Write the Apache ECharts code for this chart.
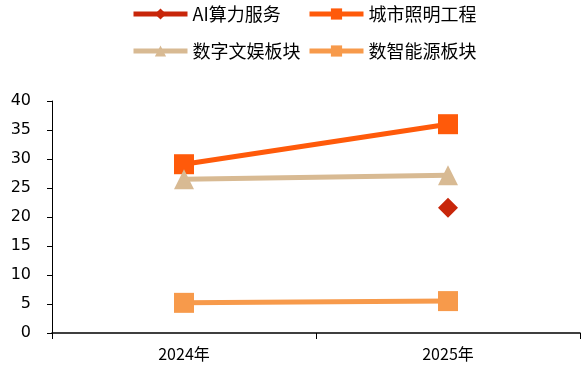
<!DOCTYPE html>
<html>
<head>
    <meta charset="UTF-8">
    <title>板块收入</title>
    <script src="https://cdn.jsdelivr.net/npm/echarts@6/dist/echarts.min.js"></script>
    <style>
        body { margin: 0; background: #fff; }
    </style>
</head>
<body>
<div id="main" style="width: 582px;height:374px;"></div>
<script type="text/javascript">
    // 数据
    var years = ['2024年', '2025年'];
    var aiService = [null, 21.6];
    var cityLight = [29.1, 36.0];
    var digitalEnt = [26.5, 27.2];
    var smartEnergy = [5.2, 5.5];
    var yTicks = [0, 5, 10, 15, 20, 25, 30, 35, 40];

    var myChart = echarts.init(document.getElementById('main'));

    var legendText = {fontSize: 18, color: '#000', fontFamily: 'Noto Sans CJK SC'};
    function makeLegend(name, left, top) {
        return {
            data: [name], left: left, top: top,
            itemWidth: 54, itemHeight: 14, itemGap: 4, padding: 0,
            lineStyle: {width: 5},
            textStyle: legendText
        };
    }

    function lineSeries(name, data, color, symbol, size) {
        return {
            name: name, type: 'line', data: data,
            symbol: symbol, symbolSize: size,
            lineStyle: {width: 5, color: color},
            itemStyle: {color: color},
            connectNulls: false,
            animation: false
        };
    }

    var option = {
        legend: [
            makeLegend('AI算力服务', 131, 5),
            makeLegend('城市照明工程', 307, 5),
            makeLegend('数字文娱板块', 131, 42),
            makeLegend('数智能源板块', 307, 42)
        ],
        grid: {left: 52, right: 2, top: 101, bottom: 41, containLabel: false},
        xAxis: {
            type: 'category',
            data: years,
            boundaryGap: true,
            axisLine: {lineStyle: {color: '#000', width: 1.5}},
            axisTick: {show: true, length: 6, lineStyle: {color: '#000'}},
            axisLabel: {fontSize: 16, color: '#000', margin: 13, fontFamily: 'Noto Sans CJK SC'}
        },
        yAxis: {
            type: 'value',
            min: yTicks[0],
            max: yTicks[yTicks.length - 1],
            interval: 5,
            axisLine: {show: true, lineStyle: {color: '#000', width: 1}},
            axisTick: {show: true, length: 5, lineStyle: {color: '#000'}},
            splitLine: {show: false},
            axisLabel: {fontSize: 16, color: '#000', margin: 21, fontFamily: 'DejaVu Sans'}
        },
        series: [
            lineSeries('AI算力服务', aiService, '#C8260A', 'diamond', 20),
            lineSeries('城市照明工程', cityLight, '#FF5A0A', 'rect', 20),
            lineSeries('数字文娱板块', digitalEnt, '#D8BA93', 'triangle', 20),
            lineSeries('数智能源板块', smartEnergy, '#F79A4B', 'rect', 20)
        ]
    };

    myChart.setOption(option);
</script>
</body>
</html>
